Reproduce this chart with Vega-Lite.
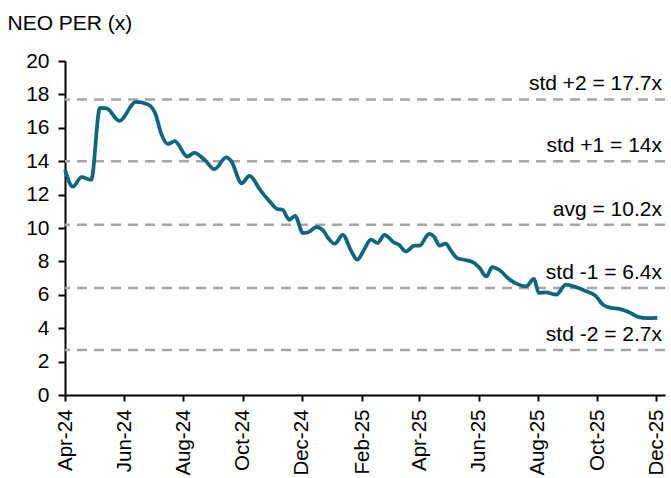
{
  "$schema": "https://vega.github.io/schema/vega-lite/v6.json",
  "autosize": {"type": "none"},
  "width": 600,
  "height": 334,
  "padding": {"left": 65, "top": 61, "right": 6, "bottom": 83},
  "background": "white",
  "config": {
    "font": "Liberation Sans",
    "view": {"stroke": null},
    "axis": {"labelFont": "Liberation Sans", "titleFont": "Liberation Sans"},
    "axisY": {
      "tickCount": 11,
      "labelFontSize": 21,
      "labelColor": "black",
      "labelPadding": 9,
      "labelOverlap": false,
      "tickSize": 7,
      "tickWidth": 2,
      "tickColor": "black",
      "domainColor": "black",
      "domainWidth": 2,
      "grid": false
    }
  },
  "datasets": {
    "per": [
      {"date": "2024-04-01", "pe": 13.5},
      {"date": "2024-04-09", "pe": 12.48},
      {"date": "2024-04-18", "pe": 13.04},
      {"date": "2024-04-28", "pe": 12.88},
      {"date": "2024-05-07", "pe": 17.2},
      {"date": "2024-05-14", "pe": 17.16},
      {"date": "2024-05-27", "pe": 16.42},
      {"date": "2024-06-13", "pe": 17.55},
      {"date": "2024-06-25", "pe": 17.41},
      {"date": "2024-07-03", "pe": 16.86},
      {"date": "2024-07-09", "pe": 15.67},
      {"date": "2024-07-16", "pe": 15.03},
      {"date": "2024-07-23", "pe": 15.2},
      {"date": "2024-08-05", "pe": 14.27},
      {"date": "2024-08-12", "pe": 14.5},
      {"date": "2024-08-23", "pe": 14.07},
      {"date": "2024-09-02", "pe": 13.52},
      {"date": "2024-09-14", "pe": 14.23},
      {"date": "2024-09-19", "pe": 14.03},
      {"date": "2024-09-30", "pe": 12.68},
      {"date": "2024-10-08", "pe": 13.12},
      {"date": "2024-10-19", "pe": 12.28},
      {"date": "2024-10-29", "pe": 11.58},
      {"date": "2024-11-06", "pe": 11.13},
      {"date": "2024-11-11", "pe": 11.09},
      {"date": "2024-11-18", "pe": 10.49},
      {"date": "2024-11-24", "pe": 10.73},
      {"date": "2024-12-02", "pe": 9.7},
      {"date": "2024-12-07", "pe": 9.73},
      {"date": "2024-12-16", "pe": 10.05},
      {"date": "2024-12-23", "pe": 9.85},
      {"date": "2024-12-28", "pe": 9.4},
      {"date": "2025-01-04", "pe": 9.06},
      {"date": "2025-01-12", "pe": 9.59},
      {"date": "2025-01-21", "pe": 8.6},
      {"date": "2025-01-27", "pe": 8.1},
      {"date": "2025-02-03", "pe": 8.7},
      {"date": "2025-02-10", "pe": 9.3},
      {"date": "2025-02-17", "pe": 9.1},
      {"date": "2025-02-24", "pe": 9.59},
      {"date": "2025-03-06", "pe": 9.13},
      {"date": "2025-03-11", "pe": 9.0},
      {"date": "2025-03-18", "pe": 8.6},
      {"date": "2025-03-27", "pe": 8.94},
      {"date": "2025-04-01", "pe": 8.94},
      {"date": "2025-04-11", "pe": 9.65},
      {"date": "2025-04-16", "pe": 9.49},
      {"date": "2025-04-22", "pe": 8.94},
      {"date": "2025-04-28", "pe": 9.06},
      {"date": "2025-05-04", "pe": 8.6},
      {"date": "2025-05-10", "pe": 8.2},
      {"date": "2025-05-17", "pe": 8.1},
      {"date": "2025-05-26", "pe": 7.96},
      {"date": "2025-06-02", "pe": 7.61},
      {"date": "2025-06-09", "pe": 7.1},
      {"date": "2025-06-15", "pe": 7.66},
      {"date": "2025-06-22", "pe": 7.5},
      {"date": "2025-07-03", "pe": 6.91},
      {"date": "2025-07-10", "pe": 6.67},
      {"date": "2025-07-20", "pe": 6.51},
      {"date": "2025-07-28", "pe": 6.95},
      {"date": "2025-08-02", "pe": 6.11},
      {"date": "2025-08-09", "pe": 6.15},
      {"date": "2025-08-20", "pe": 6.01},
      {"date": "2025-08-30", "pe": 6.61},
      {"date": "2025-09-09", "pe": 6.47},
      {"date": "2025-09-20", "pe": 6.21},
      {"date": "2025-09-26", "pe": 6.07},
      {"date": "2025-09-30", "pe": 5.91},
      {"date": "2025-10-07", "pe": 5.41},
      {"date": "2025-10-15", "pe": 5.22},
      {"date": "2025-10-24", "pe": 5.16},
      {"date": "2025-11-03", "pe": 4.96},
      {"date": "2025-11-13", "pe": 4.66},
      {"date": "2025-11-22", "pe": 4.6},
      {"date": "2025-12-02", "pe": 4.62}
    ],
    "levels": [
      {"level": 17.7, "label": "std +2 = 17.7x"},
      {"level": 14.0, "label": "std +1 = 14x"},
      {"level": 10.2, "label": "avg = 10.2x"},
      {"level": 6.4, "label": "std -1 = 6.4x"},
      {"level": 2.7, "label": "std -2 = 2.7x"}
    ]
  },
  "layer": [
    {
      "data": {"name": "levels"},
      "mark": {"type": "rule", "color": "#a6a6a6", "strokeWidth": 2.5, "strokeDash": [10, 7]},
      "encoding": {
        "y": {
          "field": "level",
          "type": "quantitative",
          "scale": {"domain": [0, 20], "nice": false},
          "axis": {
            "title": "NEO PER (x)",
            "titleAngle": 0,
            "titleAlign": "left",
            "titleBaseline": "alphabetic",
            "titleX": -58,
            "titleY": -32,
            "titleFontSize": 21,
            "titleFontWeight": "normal",
            "titleColor": "black",
            "values": [0, 2, 4, 6, 8, 10, 12, 14, 16, 18, 20],
            "tickCount": 11,
            "labelOverlap": false
          }
        }
      }
    },
    {
      "data": {"name": "per"},
      "mark": {"type": "line", "color": "#0c6680", "strokeWidth": 3.75, "interpolate": "monotone"},
      "encoding": {
        "x": {
          "field": "date",
          "type": "temporal",
          "scale": {"type": "utc", "domain": [{"year": 2024, "month": 4, "date": 1, "utc": true}, {"year": 2025, "month": 12, "date": 10, "utc": true}], "nice": false},
          "axis": {
            "title": null,
            "format": "%b-%y",
            "labelAngle": -90,
            "labelFontSize": 20.5,
            "labelColor": "black",
            "labelPadding": 8,
            "labelOverlap": false,
            "tickCount": 11,
            "tickSize": 6,
            "tickWidth": 2,
            "tickColor": "black",
            "domainColor": "black",
            "domainWidth": 2,
            "grid": false,
            "values": [
              {"year": 2024, "month": 4, "date": 1, "utc": true},
              {"year": 2024, "month": 6, "date": 1, "utc": true},
              {"year": 2024, "month": 8, "date": 1, "utc": true},
              {"year": 2024, "month": 10, "date": 1, "utc": true},
              {"year": 2024, "month": 12, "date": 1, "utc": true},
              {"year": 2025, "month": 2, "date": 1, "utc": true},
              {"year": 2025, "month": 4, "date": 1, "utc": true},
              {"year": 2025, "month": 6, "date": 1, "utc": true},
              {"year": 2025, "month": 8, "date": 1, "utc": true},
              {"year": 2025, "month": 10, "date": 1, "utc": true},
              {"year": 2025, "month": 12, "date": 1, "utc": true}
            ]
          }
        },
        "y": {
          "field": "pe",
          "type": "quantitative"
        }
      }
    },
    {
      "data": {"name": "levels"},
      "mark": {"type": "text", "align": "right", "baseline": "middle", "dx": -3, "dy": -15, "fontSize": 21, "color": "black"},
      "encoding": {
        "x": {"datum": {"year": 2025, "month": 12, "date": 10, "utc": true}, "type": "temporal"},
        "y": {"field": "level", "type": "quantitative"},
        "text": {"field": "label"}
      }
    }
  ]
}
